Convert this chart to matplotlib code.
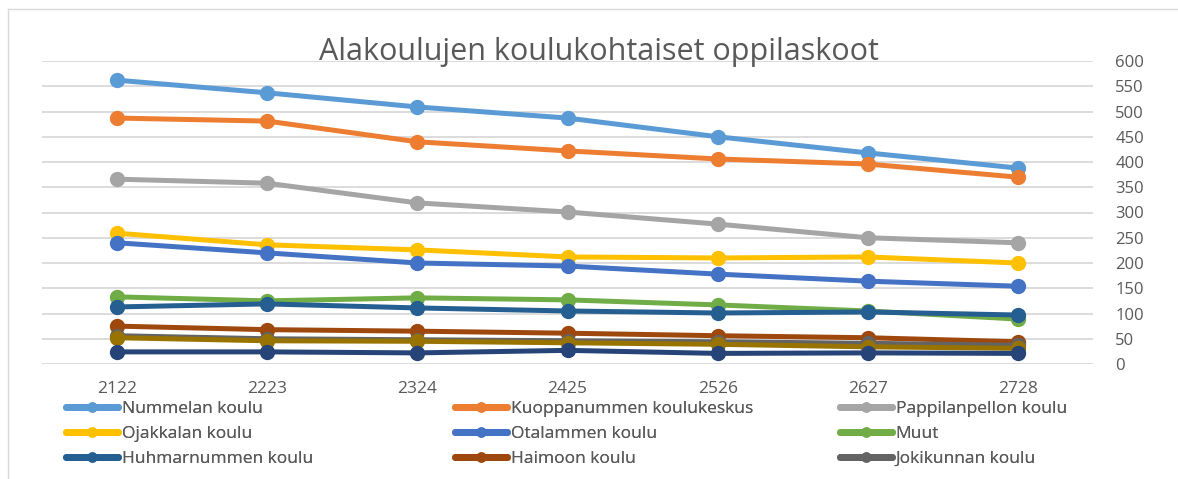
import matplotlib
matplotlib.use("Agg")
import matplotlib.pyplot as plt
from matplotlib.lines import Line2D

categories = ["2122", "2223", "2324", "2425", "2526", "2627", "2728"]

nummelan = [562, 537, 509, 487, 450, 418, 388]
kuoppanummen = [487, 481, 440, 422, 406, 396, 370]
pappilanpellon = [366, 358, 319, 301, 277, 250, 240]
ojakkalan = [259, 236, 226, 212, 210, 212, 200]
otalammen = [240, 220, 200, 194, 178, 164, 154]
muut = [133, 125, 131, 127, 117, 105, 89]
huhmarnummen = [113, 119, 111, 105, 101, 103, 97]
haimoon = [75, 68, 65, 61, 56, 52, 44]
jokikunnan = [56, 50, 48, 46, 44, 41, 37]
series10 = [52, 46, 45, 42, 39, 34, 31]
series11 = [24, 24, 22, 27, 21, 22, 21]

names = ["Nummelan koulu", "Kuoppanummen koulukeskus", "Pappilanpellon koulu",
         "Ojakkalan koulu", "Otalammen koulu", "Muut",
         "Huhmarnummen koulu", "Haimoon koulu", "Jokikunnan koulu",
         "_s10", "_s11"]
values = [nummelan, kuoppanummen, pappilanpellon, ojakkalan, otalammen, muut,
          huhmarnummen, haimoon, jokikunnan, series10, series11]
colors = ["#5B9BD5", "#ED7D31", "#A5A5A5", "#FFC000", "#4472C4", "#70AD47",
          "#255E91", "#9E480E", "#636363", "#997300", "#264478"]

W, H = 1178, 479
fig = plt.figure(figsize=(W / 100, H / 100), dpi=100)
ax = fig.add_axes([42 / W, 1 - 364 / H, (1093 - 42) / W, (364 - 61) / H])

x = list(range(len(categories)))
handles = []
for name, vals, c in zip(names, values, colors):
    ln, = ax.plot(x, vals, color=c, lw=3.6, marker="o", markersize=10,
                  solid_capstyle="round", label=name, zorder=3)
    handles.append(ln)

ax.set_xlim(-0.5, len(categories) - 0.5)
ax.set_ylim(0, 600)
ax.set_yticks(range(0, 601, 50))
ax.yaxis.tick_right()
ax.grid(axis="y", color="#D9D9D9", lw=1.3, zorder=0)
ax.set_axisbelow(True)
for s in ax.spines.values():
    s.set_visible(False)
ax.tick_params(axis="y", which="both", length=0, pad=16, labelsize=12,
               labelcolor="#595959")
ax.tick_params(axis="x", length=0, pad=12, labelsize=12.5, labelcolor="#595959")
ax.set_xticks(x)
ax.set_xticklabels(categories)
for t in ax.get_yticklabels() + ax.get_xticklabels():
    t.set_family("Open Sans")

fig.text(599 / W, 1 - 52 / H, "Alakoulujen koulukohtaiset oppilaskoot",
         ha="center", va="center", fontsize=22, color="#595959",
         family="Open Sans")

# three single-column legends, row-major ordering like the reference
cols = [[0, 3, 6], [1, 4, 7], [2, 5, 8]]
xs = [66, 455, 840]
for xi, idx in zip(xs, cols):
    lg = fig.legend([handles[i] for i in idx], [names[i] for i in idx],
                    loc="upper left", bbox_to_anchor=(xi / W, 1 - 401 / H),
                    frameon=False, ncol=1, handlelength=3.0, handletextpad=0.2,
                    labelspacing=0.5, borderaxespad=0, borderpad=0,
                    prop={"family": "Open Sans", "size": 12.5},
                    labelcolor="#595959", markerscale=0.65)
    for h in lg.legend_handles:
        h.set_linewidth(5)
    fig.add_artist(lg)

# chart area border
fig.add_artist(Line2D([8 / W, 8 / W], [0, 1 - 9 / H], color="#D9D9D9", lw=1,
                      transform=fig.transFigure))
fig.add_artist(Line2D([8 / W, 1], [1 - 9 / H, 1 - 9 / H], color="#D9D9D9", lw=1,
                      transform=fig.transFigure))

fig.savefig("out.png", dpi=100)
